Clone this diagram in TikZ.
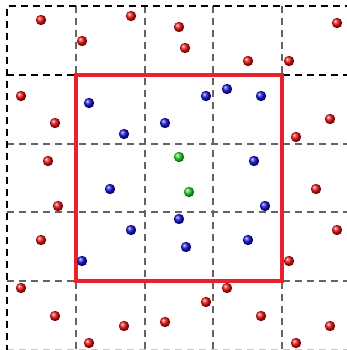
\documentclass[tikz,border=0pt]{standalone}
\definecolor{boxred}{RGB}{232,34,44}
\definecolor{gridgray}{RGB}{100,100,100}
\definecolor{faintgray}{RGB}{200,200,200}
\definecolor{rb}{RGB}{232,16,16}
\definecolor{bb}{RGB}{16,16,215}
\definecolor{gb}{RGB}{36,210,36}
\tikzset{
  gline/.style={gridgray, line width=1.1pt, dash pattern=on 7pt off 5pt},
  fline/.style={faintgray, line width=1pt, dash pattern=on 7pt off 5pt},
  bline/.style={black, line width=1.4pt, dash pattern=on 7pt off 5pt},
  redball/.style={ball color=rb},
  blueball/.style={ball color=bb},
  greenball/.style={ball color=gb},
  cellbox/.style={boxred, line width=4pt, line join=miter}
}
\begin{document}
\begin{tikzpicture}[x=1pt,y=-1pt]
\useasboundingbox (0,0) rectangle (347,350);
\fill[white] (0,0) rectangle (347,350);
\begin{scope}
\clip (0,0) rectangle (347,350);
% gray grid lines
\foreach \x in {76,145,213,282} \draw[gline] (\x,6) -- (\x,352);
\foreach \y in {144,212,281} \draw[gline] (7,\y) -- (352,\y);
\draw[fline] (7,349) -- (352,349);
% darker lines
\draw[bline] (7,352) -- (7,6) -- (352,6);
\draw[bline] (7,75) -- (352,75);
\end{scope}
% red cell
\draw[cellbox] (76,75) rectangle (282,281);
% red balls
\foreach \p in {(41,20),(131,16),(82,41),(21,96),(55,123),(48,161),(179,27),(185,48),(248,61),(289,61),(337,23),(330,119),(296,137),(58,206),(41,240),(21,288),(55,316),(124,326),(89,343),(165,322),(316,189),(337,230),(289,261),(227,288),(206,302),(261,316),(330,326),(296,343)}
  \shade[redball] \p circle (5.2);
% blue balls
\foreach \p in {(89,103),(124,134),(165,123),(206,96),(227,89),(261,96),(254,161),(110,189),(131,230),(82,261),(179,219),(265,206),(186,247),(248,240)}
  \shade[blueball] \p circle (5.2);
% green balls
\foreach \p in {(179,157),(189,192)}
  \shade[greenball] \p circle (5.2);
\end{tikzpicture}
\end{document}
